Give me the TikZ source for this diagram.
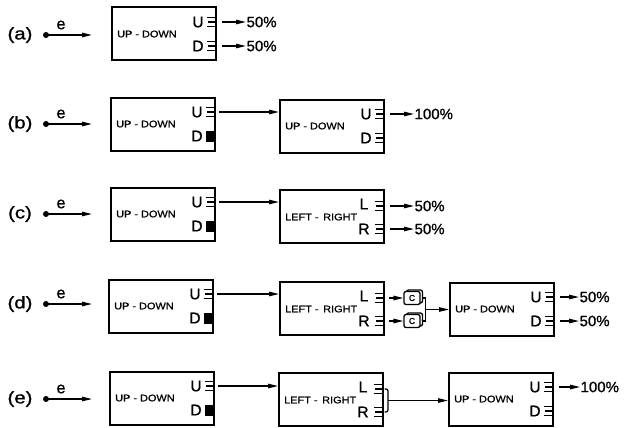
\documentclass[tikz,border=0pt]{standalone}
\usepackage{fontspec}
\setmainfont{Liberation Sans}[RawFeature={embolden=1.0}]
\newfontfamily\widefont[FakeStretch=1.15,RawFeature={embolden=1.0}]{Liberation Sans}
\newfontfamily\lblfont[FakeStretch=1.2,RawFeature={embolden=1.0}]{Liberation Sans}
\usetikzlibrary{arrows.meta,calc,shadows}
\tikzset{
  box/.style={draw,line width=2pt,minimum width=104pt,minimum height=53pt,inner sep=0pt},
  arr/.style={line width=1.2pt,-{Triangle[length=10pt,width=4.5pt]}},
  joinline/.style={line width=1.2pt},
  boxtxt/.style={font=\widefont\fontsize{9.5}{10}\selectfont,anchor=west,inner sep=0pt},
  plet/.style={font=\fontsize{15.5}{15.5}\selectfont,inner sep=0pt},
  pct/.style={font=\fontsize{15}{15}\selectfont,anchor=west,inner sep=0pt},
  rowlbl/.style={font=\lblfont\fontsize{17}{17}\selectfont,inner sep=0pt},
  elbl/.style={font=\fontsize{16}{16}\selectfont,inner sep=0pt},
  dotnode/.style={circle,fill,inner sep=0pt,minimum size=6pt},
  cbox/.style={draw,line width=1.3pt,rounded corners=2pt,fill=white,minimum width=16pt,minimum height=13pt,inner sep=0pt,font=\fontsize{8.5}{8.5}\selectfont,
    copy shadow={shadow xshift=2.5pt,shadow yshift=1.5pt}},
  openport/.pic={\draw[line width=1.2pt] (-10,-4.5)--(0,-4.5) (-9,0)--(0,0) (-10,4.5)--(0,4.5);},
  shutport/.pic={\fill (-10,-5.5) rectangle (0,5.5);},
}
% name, x, y, U port, D port
\newcommand\UDBox[5]{%
  \node[box] (#1) at (#2,#3) {};
  \node[boxtxt] (#1t) at ($(#1.west)+(6,0)$) {UP - DOWN};
  \coordinate (#1U) at ($(#1.east)+(0,-12)$);
  \coordinate (#1D) at ($(#1.east)+(0,12)$);
  \node[plet] (#1u) at ($(#1U)+(-19,0)$) {U};
  \node[plet] (#1d) at ($(#1D)+(-19,0)$) {D};
  \pic at (#1U) {#4};
  \pic at (#1D) {#5};}
% name, x, y
\newcommand\LRBox[3]{%
  \node[box] (#1) at (#2,#3) {};
  \node[boxtxt] (#1t) at ($(#1.west)+(6,1)$) {LEFT - \,RIGHT};
  \coordinate (#1L) at ($(#1.east)+(0,-10)$);
  \coordinate (#1R) at ($(#1.east)+(0,13)$);
  \node[plet] (#1l) at ($(#1L)+(-21,-2)$) {L};
  \node[plet] (#1r) at ($(#1R)+(-21,0)$) {R};
  \pic at (#1L) {openport};
  \pic at (#1R) {openport};}
% row label and input arrow: name, y, label
\newcommand\RowIn[3]{%
  \node[rowlbl] (#1lab) at (20,#2) {#3};
  \node[dotnode] (#1dot) at (46,#2) {};
  \coordinate (#1tip) at (92,#2);
  \draw[arr] (#1dot.center) -- (#1tip);
  \node[elbl] (#1e) at (61,#2-10) {e};}
\begin{document}
\begin{tikzpicture}[x=1pt,y=-1pt]
\path[use as bounding box] (0,0) rectangle (624,428);

% (a)
\RowIn{a}{35}{(a)}
\UDBox{a1}{164}{34}{openport}{openport}
\draw[arr] ($(a1U)+(5,0)$) -- ++(24,0) node[pct] (a1o1) {50\%};
\draw[arr] ($(a1D)+(5,0)$) -- ++(24,0) node[pct] (a1o2) {50\%};

% (b)
\RowIn{b}{124}{(b)}
\UDBox{b1}{163}{124}{openport}{shutport}
\UDBox{b2}{332}{126}{openport}{openport}
\draw[arr] ($(b1U)+(3,0)$) -- (b1U -| b2.west);
\draw[arr] ($(b2U)+(5,0)$) -- ++(24,0) node[pct] (b2o1) {100\%};

% (c)
\RowIn{c}{214}{(c)}
\UDBox{c1}{163}{214}{openport}{shutport}
\LRBox{c2}{332}{216}
\draw[arr] ($(c1U)+(3,0)$) -- (c1U -| c2.west);
\draw[arr] ($(c2L)+(5,0)$) -- ++(24,0) node[pct] (c2o1) {50\%};
\draw[arr] ($(c2R)+(5,0)$) -- ++(24,0) node[pct] (c2o2) {50\%};

% (d)
\RowIn{d}{304}{(d)}
\UDBox{d1}{161}{306}{openport}{shutport}
\LRBox{d2}{332}{308}
\UDBox{d3}{502}{309}{openport}{openport}
\draw[arr] ($(d1U)+(3,0)$) -- (d1U -| d2.west);
\node[cbox] (dc1) at ($(d2L)+(27,0)$) {C};
\node[cbox] (dc2) at ($(d2R)+(27,0)$) {C};
\draw[arr] ($(d2L)+(4,0)$) -- (dc1.west);
\draw[arr] ($(d2R)+(4,0)$) -- (dc2.west);
\coordinate (dj) at ($(dc1.east)!0.5!(dc2.east)+(5,0)$);
\draw[joinline] ($(dc1.east)+(2.5,0)$) -| (dj) |- ($(dc2.east)+(2.5,0)$);
\draw[arr] (dj) -- (dj -| d3.west);
\draw[arr] ($(d3U)+(5,0)$) -- ++(19,0) node[pct] (d3o1) {50\%};
\draw[arr] ($(d3D)+(5,0)$) -- ++(19,0) node[pct] (d3o2) {50\%};

% (e)
\RowIn{e}{399}{(e)}
\UDBox{e1}{162}{398}{openport}{shutport}
\LRBox{e2}{331}{399}
\UDBox{e3}{501}{399}{openport}{openport}
\draw[arr] ($(e1U)+(3,0)$) -- (e1U -| e2.west);
\coordinate (ej) at ($(e2L)!0.5!(e2R)+(4,0)$);
\draw[joinline,rounded corners=2pt] ($(e2L)+(0.5,0)$) -| (ej) |- ($(e2R)+(0.5,0)$);
\draw[arr] (ej) -- (ej -| e3.west);
\draw[arr] ($(e3U)+(5,0)$) -- ++(21,0) node[pct] (e3o1) {100\%};
\end{tikzpicture}
\end{document}
